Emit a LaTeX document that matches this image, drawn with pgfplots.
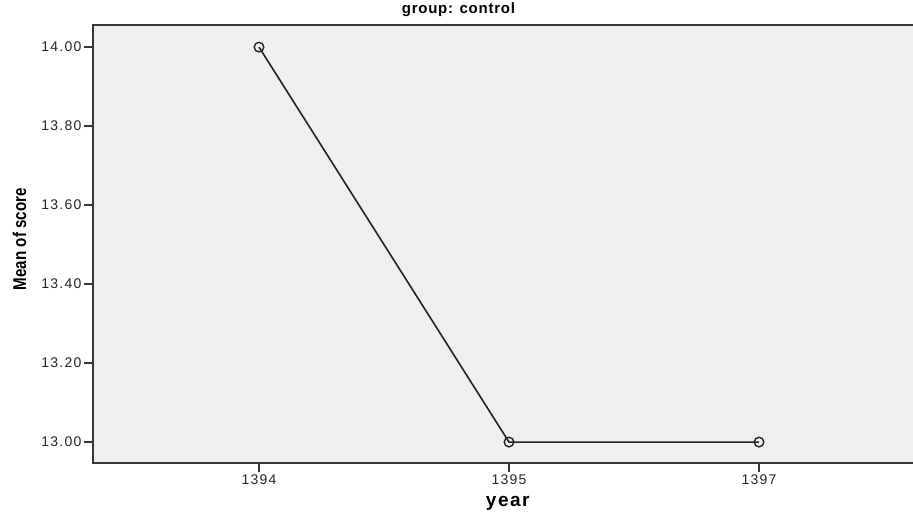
\documentclass[border=0pt]{standalone}
\usepackage{pgfplots}
\pgfplotsset{compat=1.18}
\usepackage{graphicx}
\usepackage{fontspec}
\setmainfont{Liberation Sans}
\newfontfamily\spss[LetterSpace=9]{Liberation Sans}
\newfontfamily\spsstitle[LetterSpace=5]{Liberation Sans}
\newfontfamily\spssx[LetterSpace=8]{Liberation Sans}
\definecolor{bg}{RGB}{239,239,239}
\definecolor{frame}{RGB}{55,55,55}
\definecolor{ln}{RGB}{35,35,35}
\begin{document}
\begin{tikzpicture}[x=1pt,y=1pt]
\useasboundingbox (0,0) rectangle (913,514);
\begin{axis}[
  at={(93pt,51pt)}, anchor=south west,
  scale only axis, width=823pt, height=438pt,
  xmin=-0.664, xmax=2.628,
  ymin=12.947, ymax=14.056,
  axis background/.style={fill=bg},
  axis line style={frame, line width=1.5pt},
  xtick={0,1,2}, xticklabels={1394,1395,1397},
  ytick={13,13.2,13.4,13.6,13.8,14},
  tick align=outside, major tick length=9pt,
  tick style={frame, line width=1.3pt},
  xtick pos=bottom, ytick pos=left,
  /pgf/number format/assume math mode=true,
  yticklabel style={/pgf/number format/fixed, /pgf/number format/fixed zerofill, /pgf/number format/precision=2, xshift=1pt},
  ticklabel style={font=\spss\fontsize{14}{16}\selectfont, text=black!85},
  xticklabel style={yshift=1pt},
  title={\spsstitle\fontsize{15}{17}\selectfont\bfseries group: control},
  title style={at={(axis description cs:0.444,1)}, anchor=base, yshift=5pt},
  xlabel={\spssx\fontsize{19}{21}\selectfont\bfseries year},
  xlabel style={at={(axis description cs:0.504,-0.093)}, anchor=center},
  ylabel={\scalebox{0.82}[1]{\fontsize{18.5}{20}\selectfont\bfseries Mean of score}},
  ylabel style={at={(axis description cs:-0.0893,0.511)}, anchor=center, rotate=0},
  clip=false,
]
\addplot[ln, line width=1.6pt, mark=o, mark size=4.8pt, mark options={line width=1.4pt, fill=none}]
  coordinates {(0,14.00) (1,13.00) (2,13.00)};
\end{axis}
\end{tikzpicture}
\end{document}
